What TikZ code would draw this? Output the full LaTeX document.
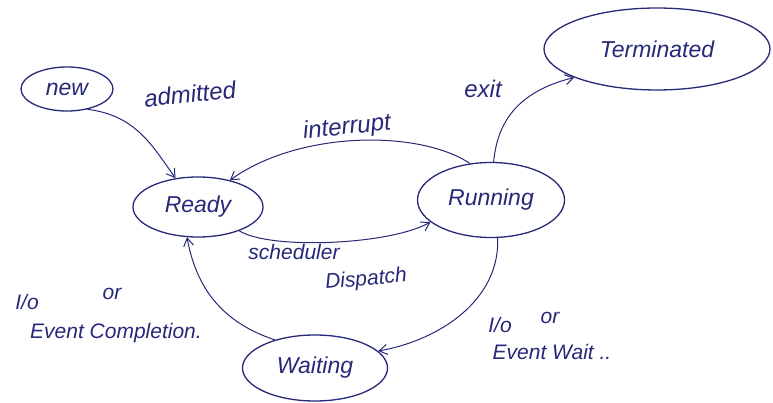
\documentclass[tikz,border=0pt]{standalone}
\usepackage{fontspec}
\setmainfont{Liberation Sans}
\usetikzlibrary{arrows.meta,shapes.geometric}
\definecolor{ink}{RGB}{38,40,120}
\begin{document}
\begin{tikzpicture}[x=1pt,y=-1pt,
  state/.style={draw=ink,ellipse,line width=1.3pt,inner sep=0pt,text=ink,font=\itshape\fontsize{23}{26}\selectfont},
  lbl/.style={text=ink,font=\itshape\fontsize{21}{24}\selectfont,inner sep=0pt},
  big/.style={font=\itshape\fontsize{24}{28}\selectfont},
  edge/.style={draw=ink,line width=1pt,-{Straight Barb[length=8pt,width=10pt]}}]
\useasboundingbox (0,0) rectangle (773,403);
\node[state,minimum width=92,minimum height=44] (new) at (67,89) {new};
\node[state,minimum width=130,minimum height=60] (ready) at (198,207) {Ready};
\node[state,minimum width=147,minimum height=75] (run) at (491,200) {Running};
\node[state,minimum width=226,minimum height=82] (term) at (657,49) {Terminated};
\node[state,minimum width=145,minimum height=66] (wait) at (315,368) {Waiting};
\draw[edge] (new.-45) .. controls (135,115) and (152,145) .. (ready.128);
\draw[edge] (run.120) .. controls (420,130) and (300,130) .. (ready.40);
\draw[edge] (ready.-30) .. controls (270,250) and (390,245) .. (run.200);
\draw[edge] (run.86) .. controls (497,125) and (515,92) .. (term.199);
\draw[edge] (run.-80) .. controls (500,300) and (440,340) .. (wait.15);
\draw[edge] (wait.145) .. controls (215,320) and (195,280) .. (ready.-110);
\node[lbl,big,rotate=6] (ladm) at (190,94) {admitted};
\node[lbl,big,rotate=6] (lint) at (347,128) {interrupt};
\node[lbl,big] (lexit) at (483,89) {exit};
\node[lbl] (lsch) at (294,252) {scheduler};
\node[lbl,rotate=5] (ldis) at (366,280) {Dispatch};
\node[lbl] (lio1) at (27,302) {I/o};
\node[lbl] (lor1) at (112,294) {or};
\node[lbl] (lcomp) at (116,333) {Event Completion.};
\node[lbl] (lio2) at (500,325) {I/o};
\node[lbl] (lor2) at (550,318) {or};
\node[lbl] (lwait) at (552,352) {Event Wait ..};
\end{tikzpicture}
\end{document}
